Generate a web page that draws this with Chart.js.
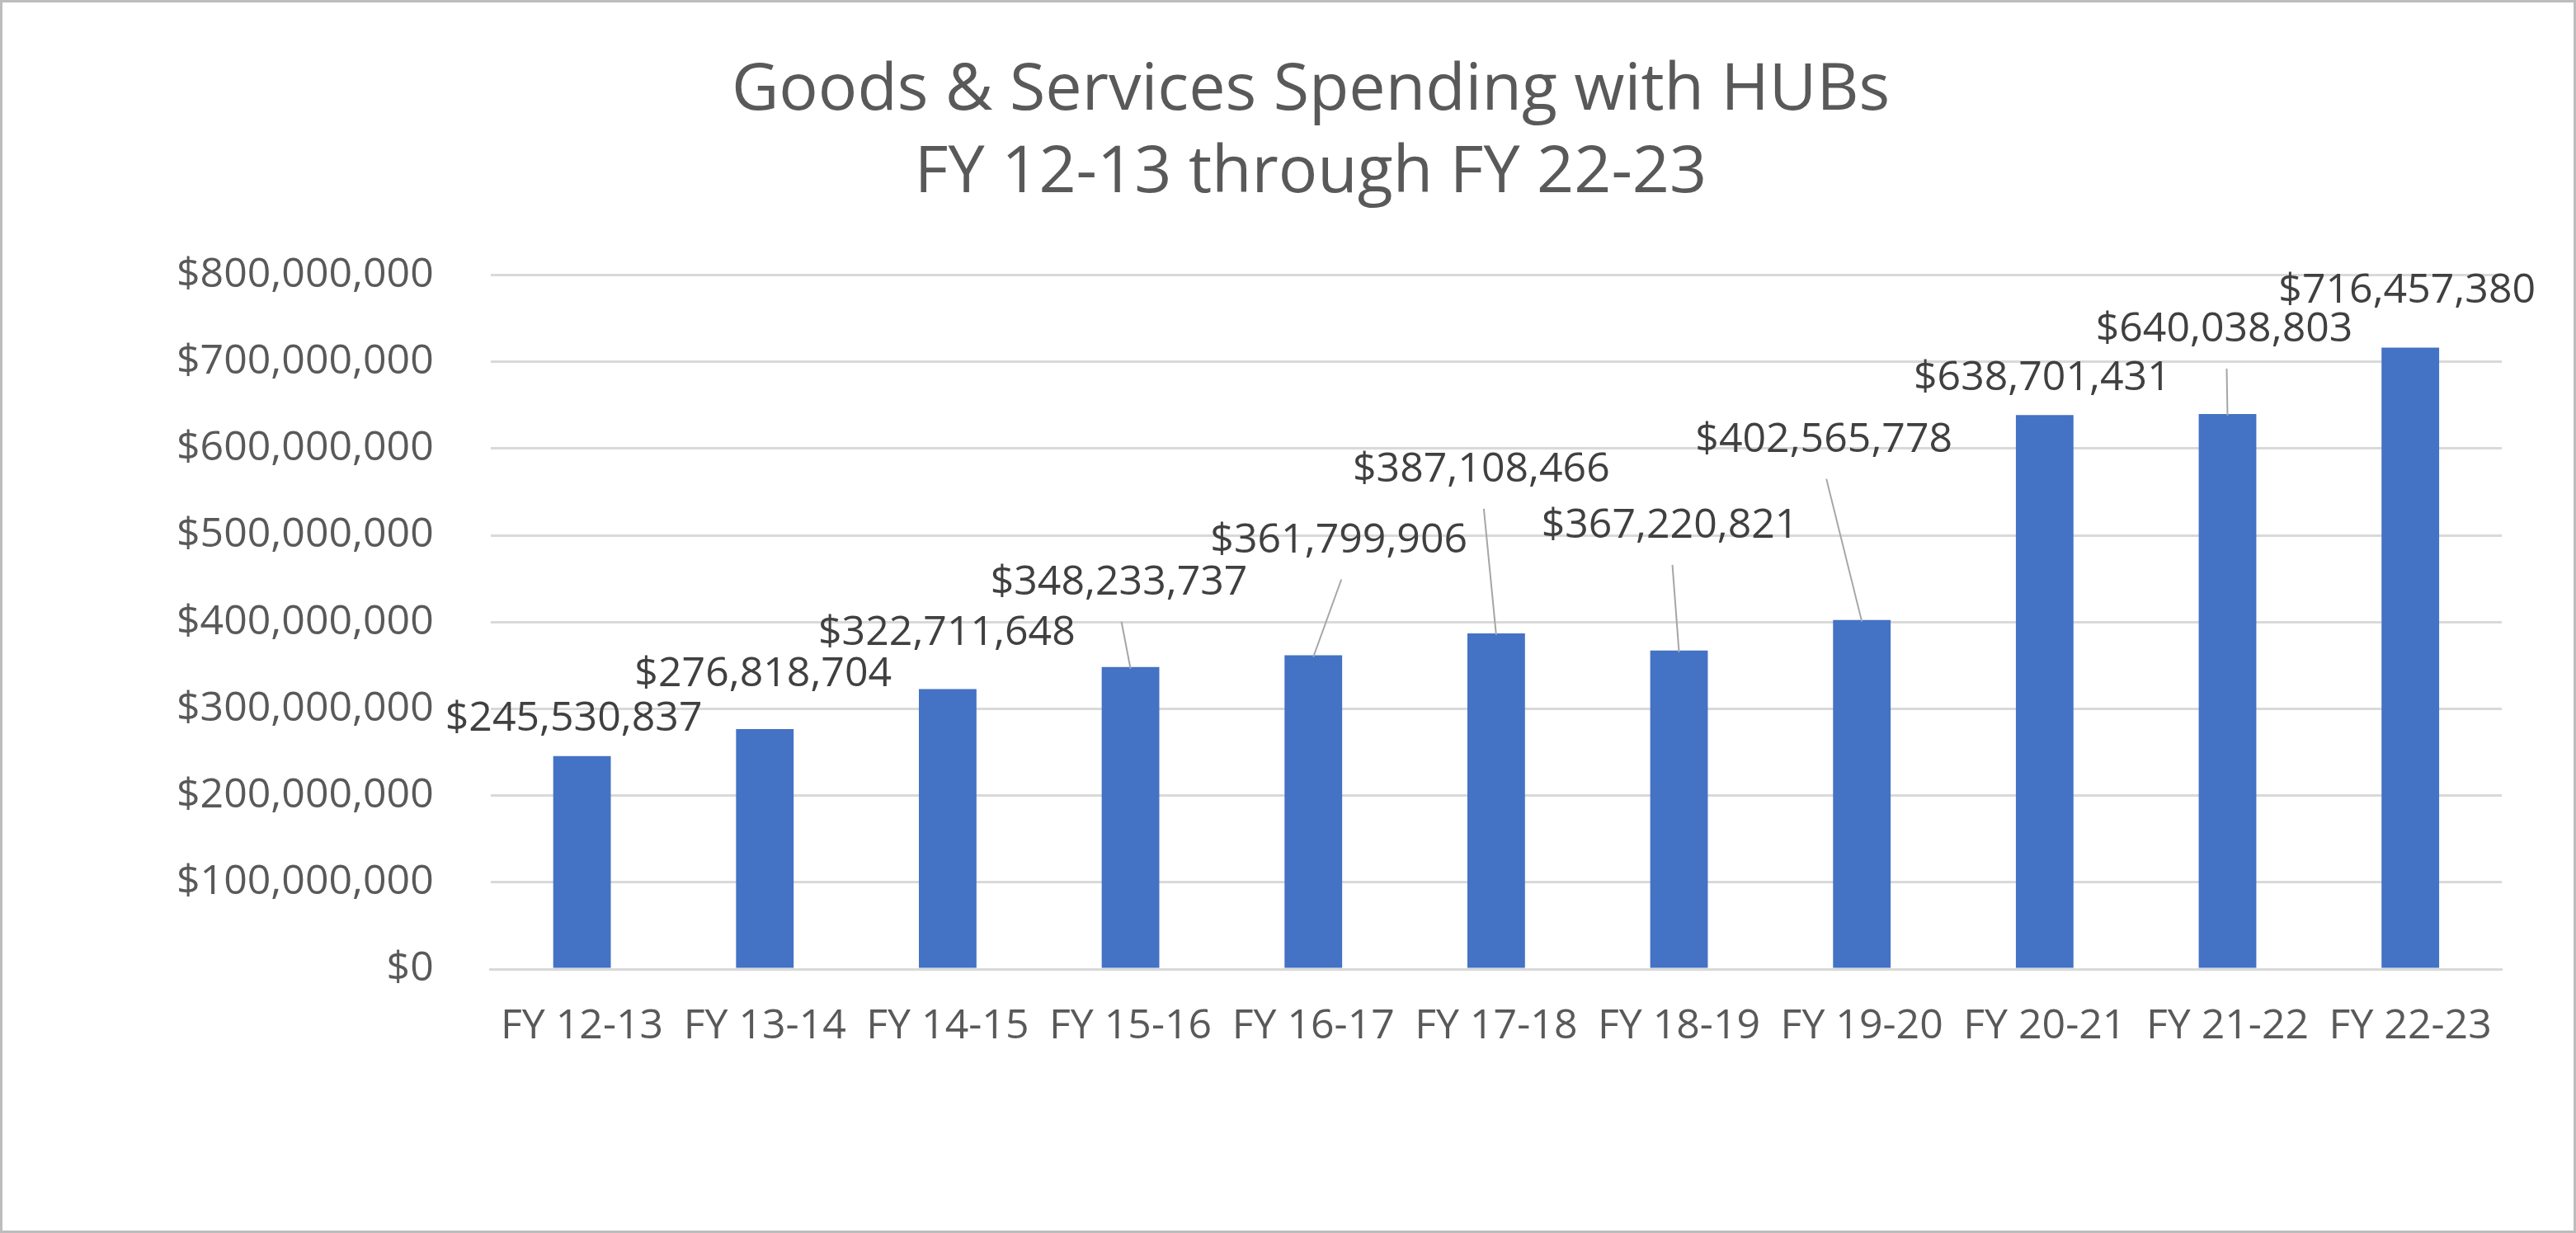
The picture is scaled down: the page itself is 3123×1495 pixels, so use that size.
<!DOCTYPE html>
<html>
<head>
<meta charset="utf-8">
<script src="https://cdn.jsdelivr.net/npm/chart.js@4.4.1/dist/chart.umd.min.js"></script>
<style>
  html, body { margin: 0; padding: 0; background: #ffffff; }
  #wrap { position: relative; width: 3123px; height: 1495px; background: #ffffff; }
  #frame { position: absolute; left: 0; top: 0; width: 3123px; height: 1495px; box-sizing: border-box;
           border: 3px solid #bdbdbd; pointer-events: none; }
  canvas { position: absolute; left: 0; top: 0; }
</style>
</head>
<body>
<div id="wrap">
  <canvas id="c" width="3123" height="1495"></canvas>
  <div id="frame"></div>
</div>
<script>
// ---- data ----
const categories = ['FY 12-13', 'FY 13-14', 'FY 14-15', 'FY 15-16', 'FY 16-17', 'FY 17-18',
                    'FY 18-19', 'FY 19-20', 'FY 20-21', 'FY 21-22', 'FY 22-23'];
const spending = [245530837, 276818704, 322711648, 348233737, 361799906, 387108466,
                  367220821, 402565778, 638701431, 640038803, 716457380];
const titleLines = ['Goods & Services Spending with HUBs', 'FY 12-13 through FY 22-23'];

// ---- data label placement (pixel offsets of label centre from bar top) ----
const labelDx = [-10, -2, -1, -14, 31, -18, -11, -46, -3, -4, -4];
const labelDy = [-45, -66, -68, -102, -139, -198, -151, -218, -45, -102, -69];
const leader  = [false, false, false, true, true, true, true, true, false, true, false];

const FONT = "'Open Sans', 'Liberation Sans', sans-serif";
const fmt = v => '$' + Math.round(v).toLocaleString('en-US');

const dataLabelPlugin = {
  id: 'dataLabels',
  afterDatasetsDraw(chart) {
    const ctx = chart.ctx;
    const meta = chart.getDatasetMeta(0);
    ctx.save();
    meta.data.forEach((bar, i) => {
      const lx = bar.x + labelDx[i];
      const ly = bar.y + labelDy[i];
      if (leader[i]) {
        ctx.beginPath();
        ctx.strokeStyle = '#a6a6a6';
        ctx.lineWidth = 2;
        ctx.moveTo(lx + 3, ly + 47);
        ctx.lineTo(bar.x, bar.y + 2);
        ctx.stroke();
      }
      ctx.font = '50px ' + FONT;
      ctx.fillStyle = '#404040';
      ctx.textAlign = 'center';
      ctx.textBaseline = 'middle';
      ctx.fillText(fmt(spending[i]), lx, ly);
    });
    ctx.restore();
  }
};

new Chart(document.getElementById('c'), {
  type: 'bar',
  data: {
    labels: categories,
    datasets: [{
      data: spending,
      backgroundColor: '#4472C4',
      borderWidth: 0,
      categoryPercentage: 1.0,
      barPercentage: 0.315
    }]
  },
  options: {
    responsive: false,
    animation: false,
    devicePixelRatio: 1,
    layout: { padding: { left: 145, right: 90, top: 0, bottom: 180 } },
    plugins: {
      legend: { display: false },
      tooltip: { enabled: false },
      title: {
        display: true,
        text: titleLines,
        color: '#595959',
        font: { family: FONT, size: 79, weight: 'normal', lineHeight: 1.27 },
        padding: { top: 60, bottom: 73 }
      }
    },
    scales: {
      x: {
        grid: { display: false, drawTicks: false },
        border: { display: true, color: '#d9d9d9', width: 3 },
        ticks: { color: '#595959', font: { family: FONT, size: 50 }, padding: 40,
                 maxRotation: 0, autoSkip: false }
      },
      y: {
        min: 0,
        max: 800000000,
        grid: { color: '#d9d9d9', lineWidth: 3, drawTicks: false },
        border: { display: false },
        ticks: { stepSize: 100000000, color: '#595959', font: { family: FONT, size: 50 },
                 padding: 69, callback: v => fmt(v) }
      }
    }
  },
  plugins: [dataLabelPlugin]
});
</script>
</body>
</html>
